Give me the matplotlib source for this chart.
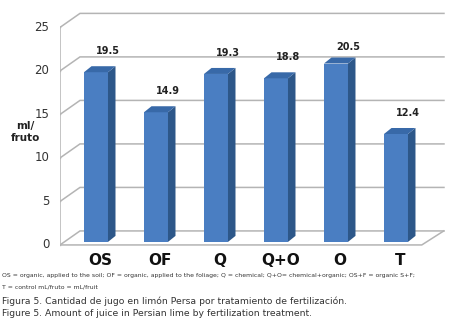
import numpy as np
import matplotlib.pyplot as plt
from matplotlib.patches import Polygon

# data
categories = ["OS", "OF", "Q", "Q+O", "O", "T"]
values = [19.5, 14.9, 19.3, 18.8, 20.5, 12.4]
yticks = [0, 5, 10, 15, 20, 25]

caption1 = ("OS = organic, applied to the soil; OF = organic, applied to the foliage; "
            "Q = chemical; Q+O= chemical+organic; OS+F = organic S+F;")
caption2 = "T = control mL/fruto = mL/fruit"
caption3 = "Figura 5. Cantidad de jugo en limón Persa por tratamiento de fertilización."
caption4 = "Figure 5. Amount of juice in Persian lime by fertilization treatment."

W, H = 451, 329
fig = plt.figure(figsize=(W/100, H/100), dpi=100)
# axes in data units: x = category index, y = ml/fruto
ax = fig.add_axes([60/W, 1-258/H, 385/W, 248/H])
ax.set_xlim(-0.6, 5.817)
ax.set_ylim(-1.5, 27)
ax.axis("off")

# faux 3d offsets (data units)
dx, dy = 0.333, 1.61          # wall depth
x0, x1 = -0.6, 5.43           # floor front edge
grid_c = "#b4b4b4"

for v in yticks:
    ax.plot([x0, x0+dx, 5.8], [v, v+dy, v+dy], color=grid_c, lw=1.1,
            solid_joinstyle="miter", zorder=1)
    ax.plot([x0-0.04, x0], [v, v], color=grid_c, lw=1.0, zorder=1)
    ax.text(x0-0.18, v, str(v), ha="right", va="center", fontsize=8.5,
            color="#333333")
ax.plot([x0, x0], [0, 25], color=grid_c, lw=1.1, zorder=1)
ax.plot([x0, x1, x1+dx*1.1], [0, 0, dy], color=grid_c, lw=1.1, zorder=1)

# bars
bw = 0.4
bx, by = 0.0, 0.35            # bar sits slightly into the floor
ddx, ddy = 0.125, 0.69        # bar depth
c_front, c_side, c_top = "#4a7ec2", "#2d5789", "#3869a8"
for i, v in enumerate(values):
    l = i - bw/2 + bx
    r = i + bw/2 + bx
    b = by
    t = v + by
    ax.add_patch(Polygon([[l, b], [r, b], [r, t], [l, t]], closed=True,
                         fc=c_front, ec="none", zorder=3))
    ax.add_patch(Polygon([[r, b], [r+ddx, b+ddy], [r+ddx, t+ddy], [r, t]],
                         closed=True, fc=c_side, ec="none", zorder=3))
    ax.add_patch(Polygon([[l, t], [r, t], [r+ddx, t+ddy], [l+ddx, t+ddy]],
                         closed=True, fc=c_top, ec="none", zorder=3))
    ax.text(i + 0.2, min(v + 2.8, 22.7), f"{v}", ha="center", va="center",
            fontsize=7, fontweight="bold", color="#222222", zorder=4)
    ax.text(i + 0.07, -1.75, categories[i], ha="center", va="center",
            fontsize=11, fontweight="bold", color="#111111", clip_on=False)

fig.text(25/W, 1-132/H, "ml/\nfruto", ha="center", va="center", fontsize=7.5,
         fontweight="bold", color="#222222", linespacing=1.3)

fig.text(2/W, 1-276/H, caption1, ha="left", va="center", fontsize=4.4, color="#333333")
fig.text(2/W, 1-287/H, caption2, ha="left", va="center", fontsize=4.4, color="#333333")
fig.text(2/W, 1-301/H, caption3, ha="left", va="center", fontsize=6.7, color="#333333")
fig.text(2/W, 1-314/H, caption4, ha="left", va="center", fontsize=6.7, color="#333333")

fig.savefig("out.png", dpi=100, facecolor="white")
